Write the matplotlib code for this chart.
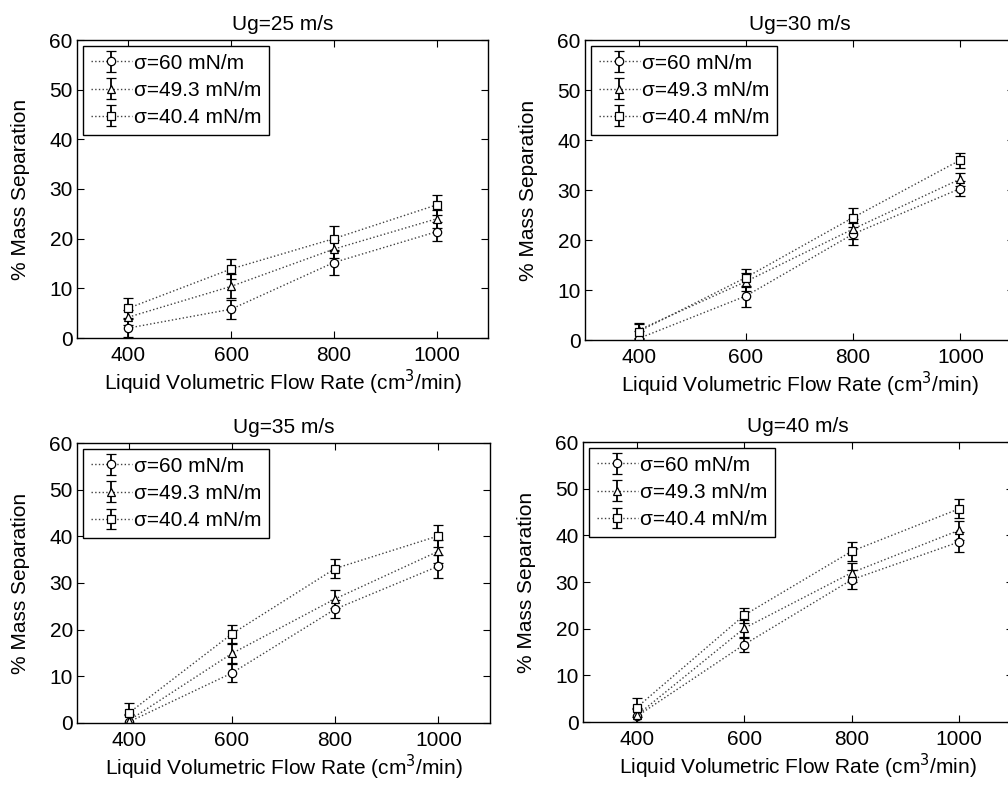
import matplotlib
matplotlib.use('Agg')
import matplotlib.pyplot as plt

plt.rcParams['font.family'] = ['Liberation Sans', 'DejaVu Sans']
plt.rcParams['font.size'] = 15

# Liquid flow rate (cm^3/min)
flow = [400, 600, 800, 1000]

titles = ['Ug=25 m/s', 'Ug=30 m/s', 'Ug=35 m/s', 'Ug=40 m/s']
labels = ['\u03c3=60 mN/m', '\u03c3=49.3 mN/m', '\u03c3=40.4 mN/m']
markers = ['o', '^', 's']

# % mass separation, one list per surface tension, per Ug panel
sep_60 = [
    [2.0, 5.8, 15.2, 21.4],
    [0.3, 8.8, 21.2, 30.3],
    [0.2, 10.7, 24.4, 33.6],
    [1.2, 16.6, 30.5, 38.6],
]
sep_49 = [
    [4.2, 10.4, 17.9, 24.0],
    [2.0, 11.7, 22.2, 32.2],
    [0.5, 14.9, 26.6, 36.8],
    [1.4, 20.1, 32.0, 41.1],
]
sep_40 = [
    [6.0, 13.9, 20.0, 26.8],
    [1.7, 12.5, 24.5, 36.0],
    [2.1, 19.1, 33.1, 40.1],
    [3.1, 22.9, 36.6, 45.7],
]

# error bar half-widths
err_60 = [
    [1.8, 1.9, 2.5, 1.9],
    [1.5, 2.1, 2.2, 1.5],
    [1.5, 2.0, 2.0, 2.5],
    [1.5, 1.5, 2.0, 2.2],
]
err_49 = [
    [1.5, 2.4, 1.8, 1.8],
    [1.5, 1.8, 2.0, 1.3],
    [1.5, 2.0, 2.0, 2.5],
    [1.5, 1.8, 2.0, 2.0],
]
err_40 = [
    [2.0, 2.1, 2.5, 2.0],
    [1.5, 1.8, 1.9, 1.5],
    [2.2, 1.9, 2.0, 2.4],
    [2.0, 1.6, 2.0, 2.0],
]

# axes boxes in pixels: left, top, right, bottom
W, H = 1008, 785
boxes = [
    (77, 40, 488, 338),
    (585, 40, 1014, 340),
    (77, 443, 490, 723),
    (583, 442, 1013, 722),
]

fig = plt.figure(figsize=(W / 100, H / 100), dpi=100)

for i in range(4):
    l, t, r, b = boxes[i]
    ax = fig.add_axes([l / W, (H - b) / H, (r - l) / W, (b - t) / H])
    series = [(sep_60[i], err_60[i]), (sep_49[i], err_49[i]), (sep_40[i], err_40[i])]
    for (vals, errs), mk, lab in zip(series, markers, labels):
        ax.errorbar(flow, vals, yerr=errs, fmt=mk, linestyle=':', color='0.25',
                    ecolor='black', linewidth=1.0, elinewidth=1.3, capsize=3.5,
                    capthick=1.3, markersize=6, markerfacecolor='white',
                    markeredgecolor='black', markeredgewidth=0.9, label=lab)
    ax.set_xlim(300, 1100)
    ax.set_ylim(0, 60)
    ax.set_xticks(flow)
    ax.set_yticks(range(0, 61, 10))
    ax.tick_params(direction='in', top=True, right=True, length=5, width=0.8,
                   labelsize=15, pad=3)
    ax.tick_params(axis='x', pad=6)
    for sp in ax.spines.values():
        sp.set_linewidth(1.0)
    ax.set_title(titles[i], fontsize=15, pad=7)
    ax.set_xlabel('Liquid Volumetric Flow Rate (cm$^3$/min)', fontsize=15, labelpad=2)
    ax.set_ylabel('% Mass Separation', fontsize=15, labelpad=14)
    leg = ax.legend(loc='upper left', fontsize=15, fancybox=False, framealpha=1,
                    edgecolor='black', handlelength=2.0, handletextpad=0.1,
                    borderaxespad=0.3, labelspacing=0.4, borderpad=0.35)
    leg.get_frame().set_linewidth(1.0)

fig.savefig('out.png', dpi=100)
